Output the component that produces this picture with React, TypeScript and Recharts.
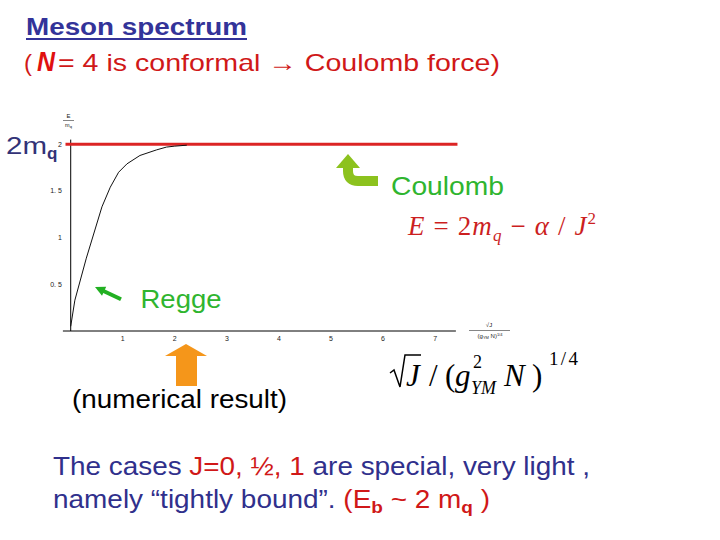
import React from 'react';
import { ComposedChart, Line, XAxis, YAxis, ReferenceLine } from 'recharts';

// scaled spin sqrt(J)/(g^2 N)^(1/4) and energy E/m_q of the numerical result
const jScaled = [0, 0.08, 0.3, 0.6, 0.76, 0.92, 1.08, 1.33, 1.65, 1.84, 2.0, 2.23];
const energyRatio = [0.05, 0.33, 0.78, 1.33, 1.54, 1.7, 1.79, 1.88, 1.94, 1.97, 1.98, 1.99];
const xTicks = [1, 2, 3, 4, 5, 6, 7];
const yTicks = [0.5, 1, 1.5, 2];
const yTickLabels: Record<string, string> = { '0.5': '0. 5', '1': '1', '1.5': '1. 5', '2': '2' };
const coulombLevel = 2;
const coulombSpan = [-0.1, 7.43];

const data = jScaled.map((x, i) => ({ x, e: energyRatio[i] }));

const SANS = '"Liberation Sans", Arial, sans-serif';
const SERIF = '"Liberation Serif", "Times New Roman", serif';
const BLUE = '#30308c';
const RED = '#d01818';
const GREEN = '#2fb52f';

export default function App() {
  return (
    <div style={{ position: 'absolute', left: 0, top: 0, width: 720, height: 540, background: '#fff' }}>
      <ComposedChart
        width={720}
        height={540}
        data={data}
        margin={{ top: 139.6, right: 264.1, bottom: 179, left: 22.9 }}
      >
        <XAxis
          dataKey="x"
          type="number"
          domain={[-0.15, 7.4]}
          ticks={xTicks}
          allowDataOverflow
          interval={0}
          height={30}
          tickLine={false}
          tickSize={0}
          tickMargin={5}
          axisLine={{ stroke: '#000', strokeWidth: 1 }}
          tick={{ fontSize: 7, fill: '#222', fontFamily: SANS }}
        />
        <YAxis
          type="number"
          domain={[0, 2.05]}
          ticks={yTicks}
          allowDataOverflow
          interval={0}
          width={40}
          axisLine={false}
          tickLine={false}
          tickSize={0}
          tickMargin={1}
          tick={{ fontSize: 7, fill: '#222', fontFamily: SANS }}
          tickFormatter={(v: number) => yTickLabels[String(v)] ?? String(v)}
        />
        <ReferenceLine x={0} stroke="#000" strokeWidth={1} />
        <ReferenceLine
          segment={[
            { x: coulombSpan[0], y: coulombLevel },
            { x: coulombSpan[1], y: coulombLevel },
          ]}
          stroke="#dc2424"
          strokeWidth={3}
          ifOverflow="visible"
        />
        <Line dataKey="e" type="linear" stroke="#111" strokeWidth={1} dot={false} isAnimationActive={false} />
      </ComposedChart>

      <svg width={720} height={540} style={{ position: 'absolute', left: 0, top: 0, pointerEvents: 'none' }}>
        {/* title */}
        <text x={26} y={35} fontFamily={SANS} fontWeight={700} fontSize={23} fill="#333399" textLength={221} lengthAdjust="spacingAndGlyphs">Meson spectrum</text>
        <rect x={26} y={38} width={221} height={2} fill="#333399" />

        {/* subtitle */}
        <text x={24} y={71} fontFamily={SANS} fontSize={24} fill={RED}>(</text>
        <text x={37} y={71} fontFamily={SANS} fontSize={28} fontStyle="italic" fontWeight={700} fill="#e01010" textLength={18} lengthAdjust="spacingAndGlyphs">N</text>
        <text x={58} y={71} fontFamily={SANS} fontSize={24} fill={RED} textLength={442} lengthAdjust="spacingAndGlyphs">= 4 is conformal → Coulomb force)</text>

        {/* 2m_q */}
        <text x={6} y={154} fontFamily={SANS} fontSize={24} fill="#333377" textLength={41} lengthAdjust="spacingAndGlyphs">2m</text>
        <text x={47} y={159} fontFamily={SANS} fontSize={17} fontWeight={700} fill="#333377">q</text>

        {/* y axis label E/m_q */}
        <text x={68.5} y={118} fontFamily={SANS} fontSize={6} textAnchor="middle" fill="#222">E</text>
        <line x1={63} x2={74} y1={120.5} y2={120.5} stroke="#333" strokeWidth={0.6} />
        <text x={68.5} y={127} fontFamily={SANS} fontSize={5.5} textAnchor="middle" fill="#222">m<tspan fontSize={4} dy={1}>q</tspan></text>

        {/* x axis label */}
        <text x={489} y={327} fontFamily={SANS} fontSize={6} textAnchor="middle" fill="#222">√J</text>
        <line x1={469} x2={510} y1={330.5} y2={330.5} stroke="#333" strokeWidth={0.6} />
        <text x={490} y={338} fontFamily={SANS} fontSize={6} textAnchor="middle" fill="#222">(g<tspan fontSize={4} dy={1}>YM</tspan><tspan dy={-1}> N)</tspan><tspan fontSize={4} dy={-2}>1/4</tspan></text>

        {/* Coulomb arrow */}
        <path d="M378 181 L358 181 Q348 181 348 171 L348 166" stroke="#8cc21e" strokeWidth={10} fill="none" />
        <polygon points="336,168 348,154 360,168" fill="#8cc21e" />
        <text x={391} y={195} fontFamily={SANS} fontSize={26} fill={GREEN} textLength={113} lengthAdjust="spacingAndGlyphs">Coulomb</text>

        {/* Coulomb formula */}
        <text x={408} y={235} fontFamily={SERIF} fontSize={27} fill="#cc1f1f" textLength={188} lengthAdjust="spacing">
          <tspan fontStyle="italic">E</tspan>
          <tspan>{' = 2'}</tspan>
          <tspan fontStyle="italic">m</tspan>
          <tspan fontStyle="italic" fontSize={17} dy={6}>q</tspan>
          <tspan dy={-6}>{' − '}</tspan>
          <tspan fontStyle="italic">α</tspan>
          <tspan>{' / '}</tspan>
          <tspan fontStyle="italic">J</tspan>
          <tspan fontSize={17} dy={-11}>2</tspan>
        </text>

        {/* Regge */}
        <line x1={121} y1={299.2} x2={103} y2={290.8} stroke="#22b022" strokeWidth={4} />
        <polygon points="95,287 106.2,286.7 102,295.7" fill="#22b022" />
        <text x={140.5} y={308} fontFamily={SANS} fontSize={26} fill={GREEN} textLength={81} lengthAdjust="spacingAndGlyphs">Regge</text>

        {/* orange arrow */}
        <polygon points="165,356 186,344 207,356" fill="#f5961a" />
        <rect x={176} y={355} width={21} height={31} fill="#f5961a" />

        {/* sqrt(J)/(g^2 N)^(1/4) */}
        <path d="M390 373 L394 370 L400 387 L405 355 L421 355" stroke="#000" strokeWidth={1.5} fill="none" />
        <g fontFamily={SERIF} fill="#000">
          <text x={406} y={386} fontSize={31} fontStyle="italic">J</text>
          <text x={429} y={386} fontSize={31}>/</text>
          <text x={445} y={386} fontSize={31}>(</text>
          <text x={455} y={386} fontSize={31} fontStyle="italic">g</text>
          <text x={473} y={368} fontSize={18}>2</text>
          <text x={471} y={394} fontSize={18} fontStyle="italic">YM</text>
          <text x={504} y={386} fontSize={31} fontStyle="italic">N</text>
          <text x={532} y={386} fontSize={31}>)</text>
          <text x={549} y={365} fontSize={19} textLength={29} lengthAdjust="spacing">1/4</text>
        </g>

        <text x={72} y={408} fontFamily={SANS} fontSize={25} fill="#000" textLength={215} lengthAdjust="spacingAndGlyphs">(numerical result)</text>

        {/* bottom text */}
        <text x={53} y={475} fontFamily={SANS} fontSize={25} textLength={537} lengthAdjust="spacingAndGlyphs">
          <tspan fill={BLUE}>The cases </tspan>
          <tspan fill={RED}>J=0, ½, 1</tspan>
          <tspan fill={BLUE}> are special, very light ,</tspan>
        </text>
        <text x={53} y={508} fontFamily={SANS} fontSize={25} textLength={437} lengthAdjust="spacingAndGlyphs">
          <tspan fill={BLUE}>namely “tightly bound”. </tspan>
          <tspan fill={RED}>(E</tspan>
          <tspan fill={RED} fontSize={17} fontWeight={700} dy={5}>b</tspan>
          <tspan fill={RED} dy={-5}> ~ 2 m</tspan>
          <tspan fill={RED} fontSize={17} fontWeight={700} dy={5}>q</tspan>
          <tspan fill={RED} dy={-5}> )</tspan>
        </text>
      </svg>
    </div>
  );
}
